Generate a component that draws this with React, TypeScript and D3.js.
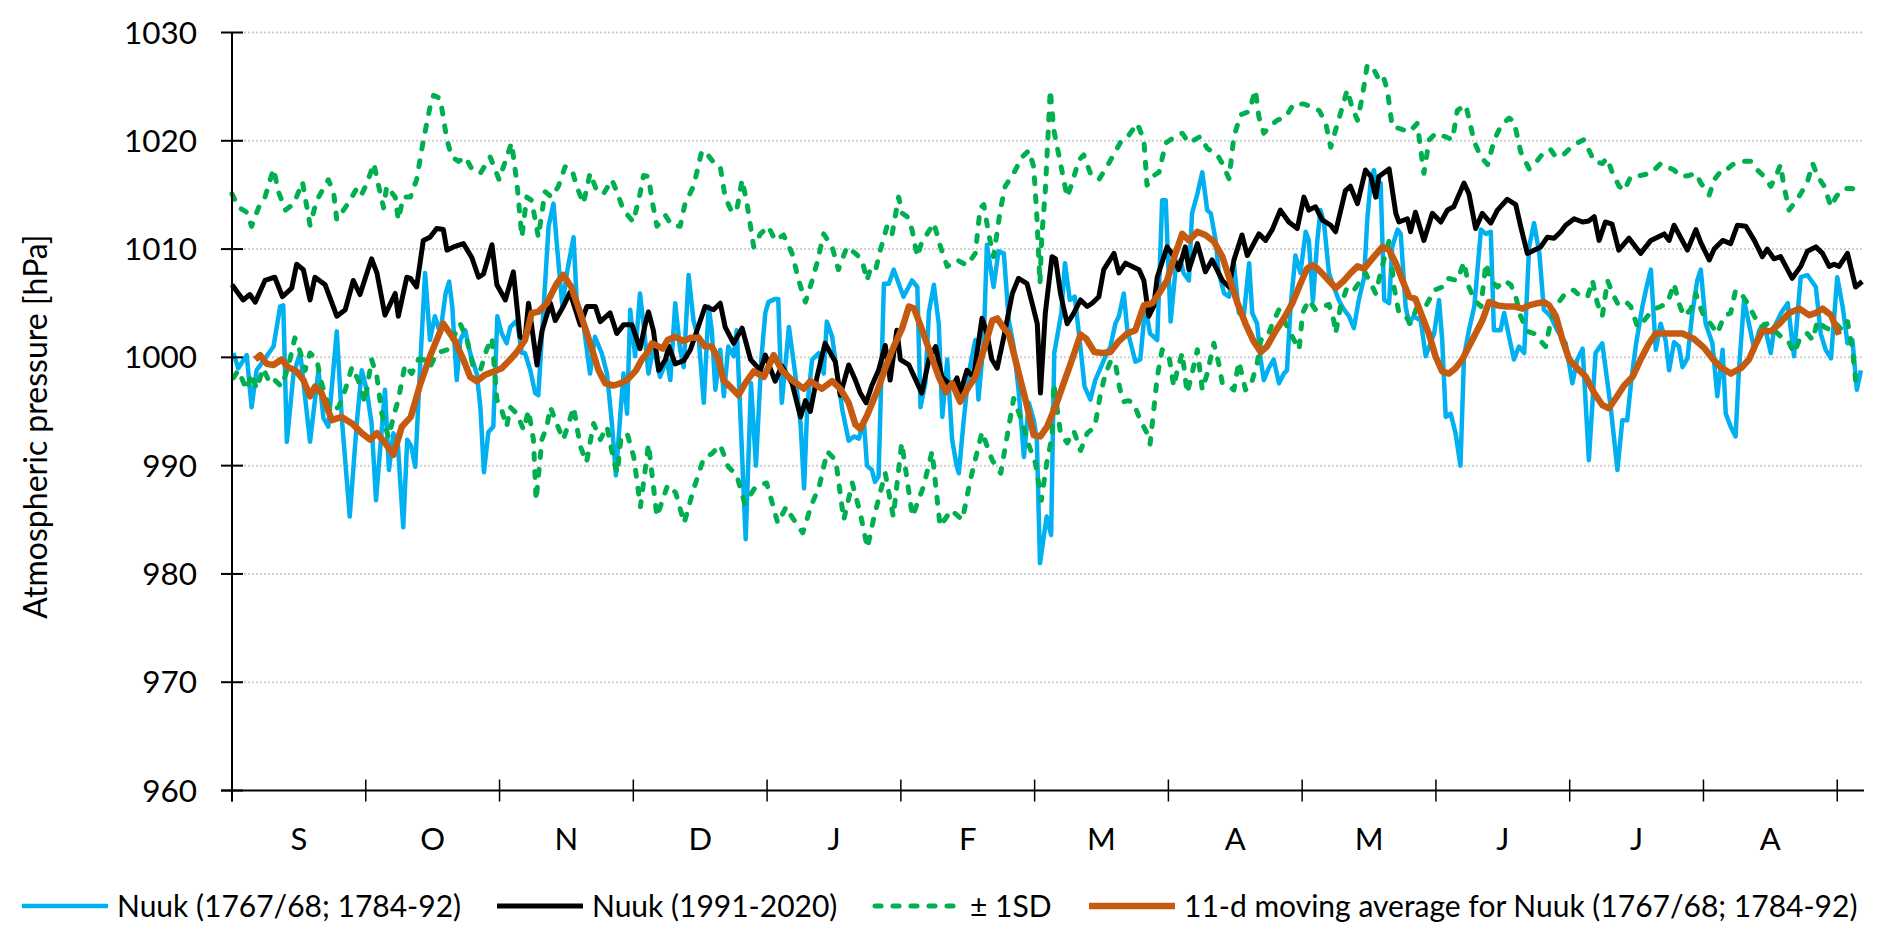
import React from "react";
import * as d3 from "d3";

const WIDTH = 1892;
const HEIGHT = 940;
const PLOT_LEFT = 232;
const PLOT_RIGHT = 1864;
const PLOT_TOP = 32.5;
const PLOT_BOTTOM = 790.5;
const FONT = "Lato, 'Open Sans', sans-serif";

const DAYS = 366;
const TICK_EVERY = 30; // category ticks every 30 days, like the excel original
const months = ["S", "O", "N", "D", "J", "F", "M", "A", "M", "J", "J", "A"];
const yTicks = [960, 970, 980, 990, 1000, 1010, 1020, 1030];

// [day from 1 Sep, hPa]
const nuukHist: [number, number][] = [
  [0.3, 1000.4], [1.4, 999], [3.3, 1000.2], [4.4, 995.4], [5.5, 998.8], [7.4, 999.9], [9.3, 1001], [10.8, 1004.7],
  [11.5, 1004.8], [12.3, 992.2], [13.8, 998.5], [15.3, 1000.4], [17.5, 992.2], [19.4, 998.8], [20.5, 994.4],
  [21.6, 993.6], [23.5, 1002.4], [24.6, 994.5], [26.4, 985.3], [28, 994], [29.1, 998.8], [30.2, 997], [31.3, 993.9],
  [32.3, 986.8], [34.3, 997], [35.2, 989.6], [36.2, 993], [37.2, 992], [38.4, 984.3], [39.3, 992.4], [40.2, 991.8],
  [41.1, 989.9], [42.1, 998.5], [43.3, 1007.8], [44.4, 1001.6], [45.5, 1003.8], [46.7, 1002.2], [47.9, 1005.9],
  [48.7, 1007], [49.4, 1004.7], [50.4, 997.9], [51.2, 1001.6], [52.3, 1002.5], [53.4, 1000.4], [54.9, 998.5],
  [55.7, 995.4], [56.5, 989.4], [57.5, 993.1], [58.6, 993.6], [59.5, 1003.8], [60.5, 1002.2], [61.6, 1001.3],
  [62.4, 1002.8], [63.9, 1003.4], [65, 1000.4], [65.7, 1000.4], [66.9, 998.8], [68, 996.7], [68.7, 996.5],
  [69.9, 1004.7], [71, 1012.1], [72.1, 1014.2], [72.9, 1010.2], [74.1, 1004.7], [75.1, 1007.8], [76.6, 1011.1],
  [77.3, 1005.3], [78.8, 1003.1], [80.3, 998.5], [81.4, 1001.9], [82.9, 1000.4], [84.1, 998.5], [85.2, 993.9],
  [86.1, 989.1], [87.1, 994.8], [87.8, 998.5], [88.6, 994.8], [89.3, 1004.4], [90.4, 1000.1], [91.5, 1005.9],
  [92.3, 1003], [93.4, 998.5], [94.5, 1001], [96, 998.2], [97.5, 999.8], [98.3, 997.9], [99.4, 1005], [100.5, 1000.7],
  [101.3, 999.1], [102.4, 1007.6], [103.5, 1003.4], [104.7, 1001.6], [105.8, 995.8], [106.9, 1004.7], [107.6, 1002.5],
  [108.4, 997], [109.5, 1000.7], [110.3, 996.4], [111.3, 1001], [112.5, 1000.1], [113.2, 1002.5], [115.2, 983.2],
  [116.4, 997.6], [117.5, 990], [118.7, 999.8], [119.6, 1004.1], [120.3, 1005.1], [121.8, 1005.4], [122.5, 1005.4],
  [123.3, 995.8], [124.9, 1002.8], [126.3, 998.5], [127.5, 993.9], [128.3, 987.9], [129, 995.4], [130.1, 999.8],
  [131.6, 1000.4], [132.7, 998.5], [133.4, 1003.3], [134.6, 1001.9], [135.7, 998.5], [136.9, 995.1], [138.3, 992.3],
  [139.5, 992.7], [140.6, 992.5], [141.7, 994.2], [142.4, 990], [143.5, 989.6], [144.2, 988.5], [145, 989],
  [146.2, 1006.8], [147.3, 1006.8], [148.4, 1008.1], [150.6, 1005.6], [152.5, 1007.1], [153.7, 1006.5], [154.4, 995.4],
  [155.5, 997.6], [156.3, 1004.2], [157.4, 1006.7], [158.5, 1003.1], [159.3, 994.5], [160.4, 999.8], [161.5, 992.4],
  [162.5, 990], [163, 989.3], [164.1, 994.2], [165.2, 998.5], [166.7, 1001.6], [167.4, 996.1], [168.6, 1001.6],
  [169.3, 1010.4], [170.8, 1006.5], [171.9, 1009.8], [173.1, 1009.6], [174.2, 1003.4], [175.3, 1001], [176.4, 997],
  [177.6, 990.8], [178.7, 995.8], [179.8, 994.2], [180.5, 992.4], [181.2, 981], [182.7, 985.3], [183.7, 983.6],
  [184.4, 1000.4], [186, 1004.1], [186.8, 1008.7], [187.9, 1005.3], [189, 1005.6], [190.1, 1001.6], [191.2, 997.3],
  [192.5, 996.1], [193.6, 997.9], [195.9, 1000.1], [197, 1001], [198.1, 1003.1], [198.9, 1003.8], [200, 1005.9],
  [200.8, 1002.5], [202.6, 999.6], [203.7, 999.8], [204.8, 1004.7], [205.9, 1002.2], [207.5, 1001.6], [208.6, 1014.5],
  [209.4, 1014.5], [210.5, 1003.3], [211.6, 1008.1], [212.7, 1009], [213.4, 1007.8], [214.6, 1007.1], [215.3, 1013.3],
  [216.5, 1015.1], [217.6, 1017.1], [218.7, 1013.6], [219.5, 1013.3], [220.6, 1010.8], [221.3, 1007.8], [222.5, 1005.9],
  [223.6, 1005.6], [224.7, 1008.7], [225.8, 1004.1], [226.9, 1003.8], [228.1, 1008.7], [228.8, 1004.1], [229.9, 1003.1],
  [230.7, 999.8], [231.4, 997.9], [232.5, 999], [233.6, 999.8], [234.8, 997.6], [235.9, 998.5], [236.6, 998.8],
  [237.4, 1004.7], [238.5, 1009.4], [239.6, 1007.8], [240.8, 1011.6], [241.5, 1010.8], [242.4, 1005.2], [243.4, 1010.8],
  [244.1, 1013.6], [244.9, 1012.4], [246, 1007.8], [247.1, 1006.5], [248.2, 1005.3], [249.4, 1004.4], [250.5, 1003.8],
  [251.6, 1002.7], [252.7, 1005.3], [253.9, 1007.4], [254.6, 1012.7], [255.4, 1016.4], [256.1, 1017.3], [256.9, 1014.8],
  [257.6, 1016.1], [258.4, 1005.3], [259.5, 1005], [260.2, 1010.2], [261.4, 1011.8], [262.1, 1011.4], [263.2, 1004.7],
  [264, 1003.1], [265, 1003.8], [266.6, 1003.4], [267.7, 1000.1], [268.5, 1001], [269.6, 1002.2], [270.7, 1005.3],
  [271.4, 1001.6], [272.2, 994.5], [273.3, 994.8], [274.4, 993], [275.5, 990], [276.3, 1000.1], [277.4, 1002.5],
  [278.6, 1004.7], [280.1, 1011.8], [281.2, 1011.4], [282.3, 1011.6], [283, 1002.5], [284.5, 1002.5], [285.3, 1004.1],
  [286.4, 1001.9], [287.5, 999.8], [288.6, 1001], [289.8, 1000.4], [290.9, 1010.2], [292, 1012.4], [293.2, 1009.6],
  [294.2, 1004.4], [295.7, 1003.8], [297.2, 1002.5], [299.1, 1001.3], [300.6, 997.6], [301.7, 999.8], [302.9, 1000.8],
  [304.3, 990.5], [305.8, 1000.4], [307.3, 1001.3], [309.2, 995.4], [310.7, 989.6], [311.8, 994.2], [312.9, 994.2],
  [313.9, 998.2], [314.9, 1001.3], [316.3, 1004.7], [317.4, 1006.8], [318.2, 1008.1], [319.3, 1000.7], [320.4, 1003.1],
  [321.5, 1001.6], [322.3, 998.8], [323.4, 1001.4], [324.5, 1001], [325.3, 999.1], [326.4, 999.9], [327.5, 1004.1],
  [328.6, 1007.1], [329.4, 1008.1], [330.5, 1003.1], [332, 1001.3], [333.1, 996.4], [334.3, 1000.7], [335, 994.8],
  [336.1, 993.6], [337.2, 992.7], [337.9, 998.5], [339.1, 1005.3], [340.2, 1003.1], [341.4, 1000.7], [342.5, 1002.5],
  [343.6, 1003.1], [345.1, 1000.4], [345.9, 1002.8], [347.4, 1004.1], [348.9, 1005], [350.3, 1000.1], [351.8, 1007.4],
  [353.3, 1007.6], [355.2, 1006.5], [356.3, 1002.2], [357.4, 1000.7], [358.6, 999.9], [360, 1007.4], [361.2, 1004.7],
  [362.3, 1001.3], [363.4, 1001.6], [364.4, 997], [365.3, 998.8],
];

const nuukNormal: [number, number][] = [
  [0, 1006.7], [2.5, 1005.3], [4, 1005.8], [5.2, 1005.1], [7.4, 1007.1], [9.6, 1007.4], [11.3, 1005.6], [13.4, 1006.4],
  [14.5, 1008.6], [16, 1008.1], [17.5, 1005.3], [18.6, 1007.4], [20.9, 1006.7], [23.5, 1003.8], [25.4, 1004.4],
  [27.2, 1007.1], [28.7, 1005.8], [31.3, 1009.1], [32.5, 1007.8], [34.3, 1003.9], [36.6, 1005.9], [37.3, 1003.8],
  [39.2, 1007.4], [40, 1007.3], [41.4, 1006.5], [42.9, 1010.8], [44.4, 1011.1], [45.9, 1011.9], [47.4, 1011.8],
  [48.2, 1009.9], [49.7, 1010.2], [51.9, 1010.5], [53.8, 1009.2], [55.3, 1007.4], [56.4, 1007.7], [58.3, 1010.4],
  [59.4, 1006.7], [61.3, 1005.3], [63.1, 1007.9], [64.6, 1001.9], [65.7, 1001.6], [66.5, 1005], [68.4, 999.3],
  [69.5, 1002.4], [71.4, 1005], [72.5, 1003.4], [74.3, 1004.7], [75.8, 1006], [78.1, 1003], [79.6, 1004.7],
  [81.5, 1004.7], [82.6, 1003.3], [84.8, 1004.1], [86.3, 1002.2], [87.8, 1003], [89.7, 1003], [91.5, 1000.8],
  [92.7, 1003.1], [93.4, 1004.2], [94.5, 1002.5], [95.7, 998.8], [97.2, 999.8], [98, 1001], [99.4, 999.4],
  [101.3, 999.7], [102.8, 1000.7], [104.3, 1002.5], [106.1, 1004.7], [108, 1004.4], [109.5, 1005], [110.6, 1002.8],
  [112.5, 1001.3], [114.4, 1002.7], [116.3, 999.8], [118.5, 998.8], [119.6, 1000.2], [121.8, 997.8], [123.3, 999.2],
  [125.6, 997.6], [127.5, 994.5], [128.6, 996], [129.7, 995], [131.2, 998.2], [133, 1001.3], [135.3, 999.6],
  [136.4, 996.5], [138.3, 999.3], [139.8, 997.9], [140.9, 996.7], [142.2, 995.8], [143.5, 997.4], [145, 998.8],
  [146.5, 1001.1], [147.6, 997.9], [149.1, 1002.5], [149.9, 999.8], [151.8, 999.3], [154.7, 996.7], [156.3, 999.8],
  [157.8, 1001], [159.2, 998.2], [161.5, 997.3], [162.6, 998.1], [163.3, 996.7], [164.8, 998.8], [166.3, 998.2],
  [168.2, 1003.6], [169.3, 1002.2], [170.4, 999.8], [171.6, 999], [173.1, 1001.9], [175, 1005.9], [176.4, 1007.3],
  [178.3, 1006.8], [179.8, 1004.4], [180.6, 1003.1], [181.3, 996.7], [182.4, 1004.1], [183.9, 1009.3], [184.7, 1009.1],
  [185.8, 1005.9], [187.3, 1003.1], [188.8, 1004.1], [190.3, 1005.3], [191.8, 1004.7], [192.9, 1005], [194.4, 1005.6],
  [195.5, 1008.1], [197.8, 1009.6], [198.9, 1007.8], [200.4, 1008.7], [203.4, 1008.1], [204.5, 1007.1], [205.6, 1003.8],
  [206.7, 1004.7], [207.5, 1007.4], [209.7, 1010.2], [210.8, 1009.6], [212.3, 1008.1], [213.8, 1010.2], [214.6, 1008.1],
  [216.5, 1010.5], [218.3, 1007.9], [219.8, 1009], [222.1, 1007.1], [223.6, 1006.5], [224.7, 1009], [226.5, 1011.3],
  [227.7, 1009.4], [230.3, 1011.4], [231.8, 1010.8], [233.3, 1011.8], [235.1, 1013.6], [237, 1012.5], [238.9, 1011.9],
  [240.4, 1014.8], [241.5, 1013.6], [243, 1013.9], [244.5, 1012.7], [246.4, 1012.2], [247.5, 1011.6], [249.7, 1015.4],
  [250.8, 1015.8], [252.4, 1014.2], [254.2, 1017.3], [255.4, 1016.7], [256.5, 1014.8], [257.2, 1016.7], [259.5, 1017.4],
  [261, 1013.3], [261.7, 1012.5], [263.6, 1012.8], [264.3, 1011.6], [265.4, 1013.4], [267.3, 1010.8], [269.2, 1013.3],
  [271.1, 1012.5], [272.6, 1013.6], [274, 1013.9], [276.3, 1016.1], [277.4, 1015.1], [278.9, 1011.9], [280.4, 1013.3],
  [282.3, 1012.4], [283.8, 1013.6], [286, 1014.6], [287.9, 1014.1], [289, 1012.1], [290.5, 1009.6], [293.5, 1010.2],
  [295, 1011.1], [296.5, 1011], [298, 1011.6], [299.1, 1012.2], [301, 1012.8], [302.9, 1012.5], [304.3, 1012.6],
  [305.5, 1013], [306.6, 1010.8], [308, 1012.5], [309.5, 1012.3], [311, 1009.9], [313.3, 1011], [315.9, 1009.6],
  [318.2, 1010.8], [321.2, 1011.4], [322.3, 1010.8], [323.4, 1012.2], [326.4, 1009.9], [328.3, 1011.8], [329.4, 1010.6],
  [331.3, 1009], [332.4, 1010], [334.3, 1010.8], [336.1, 1010.5], [337.6, 1012.2], [339.5, 1012.1], [341.4, 1010.8],
  [343.2, 1009.3], [344.3, 1010], [345.8, 1009.1], [347.3, 1009.3], [349.9, 1007.3], [351.8, 1008.4], [353.3, 1009.8],
  [355.2, 1010.2], [356.7, 1009.6], [358.2, 1008.4], [359.3, 1008.6], [360.4, 1008.4], [362.3, 1009.6], [364.1, 1006.5],
  [365.6, 1007],
];

const sdUpper: [number, number][] = [
  [0, 1015.1], [1.4, 1013.9], [3.3, 1013.4], [4.4, 1012.1], [6.3, 1014.2], [7.4, 1014.8], [9.3, 1017.4], [10.5, 1015.2],
  [12, 1013.6], [13.9, 1014.2], [15.8, 1016.2], [17.5, 1012.2], [19, 1014.5], [21.6, 1016.4], [22.8, 1015.2],
  [23.5, 1012.7], [25, 1013.6], [26, 1014.2], [28, 1015.6], [29, 1015], [30.2, 1016], [31.8, 1017.9], [32.9, 1015.8],
  [34, 1013.8], [34.7, 1015.8], [36.6, 1014.8], [37.3, 1012.7], [38.4, 1014.8], [40, 1014.8], [41.4, 1016.4],
  [42.9, 1020], [44.4, 1023.1], [45.2, 1024.2], [46.7, 1023.9], [48.2, 1020.1], [49.3, 1018.5], [50.8, 1018.1],
  [52.3, 1018.5], [53.8, 1017.4], [55.7, 1017], [57.9, 1018.5], [59.9, 1016.4], [61.6, 1018.5], [62.7, 1019.8],
  [63.9, 1016.1], [65, 1011.1], [66.1, 1014.8], [67.2, 1014.5], [68.7, 1011.1], [70.2, 1015.3], [71.7, 1014.8],
  [73.2, 1015.8], [74.7, 1017.6], [76.2, 1017.4], [77.3, 1015.8], [78.8, 1014.2], [80.3, 1017], [81.8, 1015.4],
  [83.3, 1015.1], [85.2, 1016.4], [86.3, 1015.3], [87.8, 1013.6], [90, 1012.5], [91.5, 1015.1], [92.3, 1016.8],
  [93.4, 1016.7], [94.2, 1014.5], [95.3, 1012.1], [97.2, 1013.1], [98.6, 1012.2], [100.5, 1012.1], [101.6, 1014.2],
  [103.5, 1015.8], [105.4, 1019.1], [106.5, 1018.8], [108.4, 1017.8], [109.5, 1017.6], [110.6, 1014.8], [112.1, 1013.4],
  [113.2, 1013.6], [114.4, 1016.4], [115.5, 1014.2], [117, 1010.2], [118.5, 1011.4], [120.3, 1012.1], [121.8, 1010.8],
  [123.7, 1011.3], [125.6, 1009.6], [127.1, 1007.1], [128.6, 1005.1], [130.1, 1007.1], [131.2, 1008.7], [132.7, 1011.4],
  [134.6, 1010.2], [136, 1008.1], [137.9, 1010.2], [139.8, 1009.6], [141.3, 1009], [142.4, 1007.1], [143.2, 1008.2],
  [144.3, 1008], [145.4, 1009.9], [146.9, 1012.1], [148, 1011.3], [149.5, 1014.8], [150.3, 1013.3], [151.4, 1013],
  [152.5, 1011.8], [153.7, 1009.3], [154.8, 1010.8], [155.9, 1011.4], [157.4, 1012.4], [158.9, 1010.2], [160.4, 1008.4],
  [162.6, 1009], [164.8, 1008.5], [166.7, 1009.6], [167.8, 1013.8], [168.6, 1014.1], [169.7, 1011.4], [170.8, 1009.3],
  [172.3, 1013.6], [173.4, 1015.8], [175.3, 1017], [177.2, 1018.5], [178.7, 1019.1], [179.8, 1017.6], [180.5, 1013],
  [181.2, 1006.8], [181.6, 1011.1], [182.4, 1015.4], [183.5, 1024.7], [184.3, 1021], [185.8, 1017.9], [187.3, 1014.8],
  [188.4, 1016.1], [189.9, 1018.2], [191, 1018.7], [192.5, 1017], [194.4, 1016.4], [196.6, 1017.9], [199.6, 1020.1],
  [201.1, 1020.5], [203, 1021.6], [204.5, 1020.1], [205.2, 1015.9], [206.4, 1016.7], [207.9, 1017.1], [209.4, 1019.8],
  [211.6, 1020.4], [213.1, 1020.7], [214.6, 1019.8], [217.2, 1020.4], [218.7, 1019.3], [221, 1018.7], [222.1, 1017.9],
  [223.6, 1016.5], [224.7, 1020.4], [226.2, 1022.4], [228.1, 1022.7], [229.5, 1024.7], [230.3, 1022.2], [231.4, 1020.7],
  [232.9, 1021.4], [234.4, 1021.9], [236.3, 1022.2], [238.1, 1023.4], [240.4, 1023.4], [242.3, 1023.1], [243.8, 1022.8],
  [245.3, 1021.6], [246.4, 1019.4], [247.5, 1021], [249, 1023.1], [250.1, 1024.7], [251.2, 1023.1], [252.4, 1021.9],
  [253.5, 1024.1], [254.6, 1027], [255.8, 1026.8], [256.9, 1025.9], [258, 1026.2], [259.1, 1024.7], [260.2, 1021.3],
  [262.1, 1021.1], [264, 1020.8], [265.8, 1021.6], [267.3, 1017], [268.5, 1020.1], [270, 1020.7], [271.9, 1020.4],
  [273.7, 1020.1], [274.8, 1022.8], [276.7, 1023.3], [278.6, 1019.9], [280.1, 1018.5], [281.6, 1017.8], [283.1, 1020.1],
  [284.6, 1021.4], [286.4, 1022.1], [287.5, 1021.8], [289, 1019], [290.9, 1017.4], [292.8, 1018.2], [294.3, 1019],
  [295.7, 1019.2], [296.9, 1018.5], [298.8, 1018.8], [300.3, 1019.4], [301.7, 1019.8], [303.2, 1020.1], [304.7, 1018.8],
  [305.5, 1018.1], [307.3, 1017.9], [308.4, 1018.4], [309.6, 1017], [311.1, 1015.8], [312.2, 1015.4], [313.7, 1016.7],
  [315.9, 1016.8], [318.2, 1017], [320.4, 1017.9], [321.9, 1017.6], [323.4, 1017.3], [324.9, 1016.7], [326.8, 1016.8],
  [328.3, 1017], [329.4, 1016.1], [331.3, 1015], [332.4, 1016.4], [334.3, 1017.4], [335.4, 1017.4], [336.5, 1017.8],
  [338.4, 1018.1], [340.6, 1018.1], [342.1, 1017.3], [343.6, 1016.7], [345.1, 1015.8], [346.2, 1016.7], [347.3, 1017.8],
  [348, 1015.9], [349.2, 1013.6], [350.3, 1014.2], [351.8, 1015.1], [353.3, 1016.2], [354.5, 1017.9], [355.6, 1016.7],
  [357.1, 1015.8], [358.6, 1013.9], [359.7, 1014.8], [360.8, 1015.4], [361.9, 1015.6], [363.4, 1015.6], [364.5, 1015.1],
  [365.3, 1015.1],
];

const sdLower: [number, number][] = [
  [0.3, 998.1], [1.4, 998.8], [3.3, 997], [4.4, 998.5], [5.5, 997.1], [7, 999], [8.5, 997.6], [9.6, 997.9], [11.1, 997.3],
  [12.6, 999.1], [14.1, 1001.8], [15.3, 1000.5], [16.4, 998.8], [17.5, 1000.4], [19, 999.8], [20.1, 997.6],
  [21.2, 996.1], [22.4, 995.1], [23.9, 995.4], [25.4, 997], [26.9, 999.1], [28.3, 997.9], [29.8, 995.8], [31.3, 999.8],
  [32.5, 998.2], [33.6, 994.8], [35.1, 992.6], [36.2, 994.5], [37.3, 996.1], [38.8, 999.3], [40.3, 998.5],
  [41.8, 999.8], [42.9, 999.8], [44.4, 999.1], [45.9, 1000.4], [48.2, 1000.7], [49.7, 1001.9], [51.2, 1003.1],
  [52.7, 1001.6], [54.1, 999.1], [55.7, 998.8], [57.1, 1000.7], [58.3, 1001.8], [59.4, 996.1], [60.5, 995.1],
  [61.6, 993.6], [62.4, 995.4], [63.9, 994.8], [65.4, 993.3], [66.5, 995.1], [67.6, 992.4], [68.2, 986.8],
  [69.5, 992.4], [70.6, 993.6], [71.4, 995.4], [72.8, 993.9], [74.3, 992.4], [75.5, 993.9], [76.6, 995.4],
  [78.1, 991.8], [79.5, 990.3], [81.1, 993.9], [82.6, 992.4], [84.1, 993.6], [85.6, 990.5], [86.4, 989.3],
  [87.2, 992.4], [88.6, 993], [90.1, 990.8], [91.6, 986.2], [93.4, 992], [95.3, 985.3], [97.7, 988.2], [99.5, 987.5],
  [101.4, 984.7], [103.5, 987.8], [105.8, 990.7], [107.6, 991.1], [109.5, 991.9], [111.3, 989.9], [113.2, 989.1],
  [115, 986.5], [117.5, 988.1], [119.9, 988.4], [122.4, 984.7], [124.3, 986.2], [125.5, 985.3], [128, 983.8],
  [129.8, 986.2], [131.7, 988.1], [133.5, 991.3], [135.4, 990.5], [137.2, 985], [139.1, 988.4], [140.9, 985.6],
  [142.5, 982.4], [144, 985.3], [146.5, 989.3], [148.3, 985.3], [150.2, 992.1], [152.6, 985.3], [155.1, 988.1],
  [157, 991.3], [158.8, 984.4], [161.3, 985.9], [163.8, 985], [165.6, 988.7], [168.2, 993.1], [170.5, 990.5],
  [172.4, 989.3], [175.3, 996.2], [176.8, 994.5], [178.7, 991.9], [180.2, 990.2], [181.5, 986.8], [182.7, 990.2],
  [183.9, 992.7], [184.3, 997.6], [185.8, 993], [187.3, 992.1], [188.8, 993.2], [190.3, 991.4], [191.8, 993],
  [193.5, 993.6], [194.8, 996.7], [195.9, 998.5], [197, 999.6], [198, 999.7], [199, 997.3], [199.9, 995.9], [201, 996],
  [202.2, 995.8], [203.7, 994.2], [205.2, 993], [205.9, 992], [206.7, 995.1], [207.5, 998.2], [208.6, 1000.7],
  [210.1, 1000.2], [211.2, 997.3], [212, 998.8], [213.1, 1000.4], [214.2, 996.7], [215.3, 998.5], [216.5, 1000.7],
  [217.6, 997], [218.7, 998.5], [220.2, 1001.3], [221.3, 999.4], [222.1, 997.6], [223.6, 997.3], [224.7, 997],
  [225.8, 999.6], [227.3, 997], [228.4, 997.3], [229.9, 999.4], [230.7, 1001.6], [232.2, 1001.9], [233.3, 1003.1],
  [234.8, 1004.4], [236.3, 1003.1], [237.8, 1001.9], [239.3, 1000.7], [240.1, 1004.1], [241.5, 1005.3], [243, 1004.4],
  [244.9, 1004.7], [246, 1004.9], [247.1, 1003.4], [247.5, 1002.2], [248.6, 1004.7], [250.1, 1006.5], [251.6, 1006.2],
  [253.1, 1007.1], [254.2, 1007.8], [255.4, 1006.8], [256.5, 1005.9], [257.6, 1007.8], [258.7, 1009.6], [259.5, 1010.8],
  [260.6, 1006.5], [261.7, 1004.1], [263.2, 1003.8], [264.3, 1003.1], [265.8, 1004.7], [267.7, 1004.7], [269.6, 1006.2],
  [271.4, 1006.5], [272.6, 1007.3], [274.8, 1007.1], [276.3, 1008.8], [277.4, 1006.5], [278.6, 1005.3], [280.1, 1004.7],
  [281.2, 1008.7], [282.3, 1007.1], [283.8, 1006.5], [285.3, 1007.1], [286.8, 1006.7], [287.9, 1005.6], [289, 1003.8],
  [290.5, 1002.4], [292, 1002.2], [293.5, 1001.5], [294.6, 1001], [295.7, 1003.2], [296.5, 1004.4], [297.9, 1005.3],
  [299.4, 1006.1], [300.9, 1006.2], [302.5, 1005.6], [304, 1005.6], [305.1, 1007.1], [306.2, 1005], [307.3, 1003.8],
  [308.5, 1007.1], [309.6, 1005.9], [310.7, 1005], [312.2, 1005.3], [313.7, 1004.7], [315.2, 1002.8], [316.7, 1003.4],
  [318.6, 1004.4], [320.4, 1004.7], [321.9, 1005], [323.4, 1006.8], [324.5, 1005], [325.6, 1003.8], [327.1, 1004.4],
  [328.3, 1005.9], [329.2, 1004.7], [330.1, 1003.8], [331.6, 1003.1], [333.1, 1002.2], [334.6, 1003.8], [336.1, 1004.1],
  [337.2, 1006.2], [338.4, 1005.9], [339.9, 1005], [341.4, 1003.8], [342.9, 1002.8], [344.3, 1003.1], [345.9, 1002.5],
  [347.4, 1001.9], [348.9, 1001.6], [350.3, 1000.4], [351.8, 1001.9], [353.3, 1002.2], [354.5, 1001.6], [355.6, 1003.4],
  [357.1, 1002.8], [358.6, 1002.5], [359.7, 1003.1], [361.2, 1002.5], [362.3, 1003.3], [363.4, 1000.7], [364.2, 997.6],
  [365.3, 997.9],
];

const movingAvg: [number, number][] = [
  [5.2, 999.8], [6.3, 1000.2], [7.8, 999.4], [9.3, 999.3], [11.1, 999.8], [12.6, 999.1], [14.5, 998.7], [16, 997.9],
  [17.5, 996.4], [18.6, 997.3], [20.1, 996.7], [22.4, 994.2], [24.6, 994.5], [26.9, 993.9], [29.1, 993], [31, 992.4],
  [32.5, 993], [34.3, 992.1], [36.2, 991], [38.1, 993.6], [40.1, 994.5], [42.2, 997.5], [44.4, 1000.1], [45.9, 1001.6],
  [47.4, 1003.1], [49.9, 1001.6], [51.9, 999.8], [53.4, 998.2], [54.9, 997.8], [56.8, 998.4], [58.7, 998.7], [60.5, 999],
  [62.4, 999.8], [63.9, 1000.5], [65.7, 1001.6], [67.2, 1004.1], [68.7, 1004.2], [70.6, 1005], [72.8, 1006.8],
  [74.3, 1007.6], [76.1, 1006.5], [78.1, 1004.1], [80.3, 1001.3], [82.2, 998.8], [83.7, 997.6], [85.6, 997.4],
  [87.1, 997.6], [88.6, 997.9], [90.6, 998.8], [91.9, 999.8], [93.1, 1000.4], [94.2, 1001.3], [96.6, 1000.8],
  [97.7, 1001.6], [99.4, 1001.9], [101.3, 1001.5], [102.8, 1001.8], [104.7, 1001.8], [106.1, 1001], [107.6, 1001],
  [109.1, 999.8], [110.2, 997.9], [111.7, 997.3], [113.6, 996.5], [115.1, 997.6], [117, 998.7], [119.3, 998.2],
  [121.5, 1000.2], [123.3, 998.8], [125.6, 997.9], [128.2, 997.1], [129.7, 997.8], [132.3, 997.1], [134.6, 997.8],
  [136.4, 997.1], [138.3, 995.8], [139.8, 993.8], [140.9, 993.4], [142.4, 994.6], [144.8, 997], [146.5, 999],
  [148.4, 1001], [150.3, 1002.7], [151.8, 1004.7], [153, 1004.5], [154.8, 1002.5], [156.6, 1000.4], [158.5, 998.2],
  [160.1, 996.8], [161.5, 997.6], [163.3, 995.9], [164.8, 997], [166.7, 998.2], [168.6, 1000.7], [170.5, 1003.4],
  [171.6, 1003.6], [173.1, 1002.7], [174.2, 1002.2], [176.1, 999.1], [178.3, 995.5], [179.8, 992.8], [181.3, 992.7],
  [182.8, 993.6], [184.7, 995.5], [186.5, 997.6], [188.4, 999.8], [190.3, 1002.1], [191.6, 1001.7], [193.4, 1000.5],
  [195.2, 1000.4], [197, 1000.5], [198.9, 1001.5], [200.8, 1002.2], [202.6, 1002.5], [204.5, 1004.8], [206.4, 1005],
  [207.9, 1005.9], [209.7, 1007.1], [211.6, 1009.6], [213.1, 1011.4], [214.6, 1010.8], [216.5, 1011.6], [218.3, 1011.3],
  [220.2, 1010.7], [222.1, 1009.3], [223.6, 1007.4], [225.5, 1005], [227.3, 1003.1], [229.1, 1001.5], [230.7, 1000.5],
  [232.1, 1001], [234, 1002.4], [235.9, 1003.6], [237.8, 1005], [239.6, 1006.8], [241.1, 1008.2], [242.3, 1008.5],
  [243.4, 1008.2], [245.3, 1007.4], [247.5, 1006.4], [249.4, 1007.1], [250.9, 1007.8], [252.4, 1008.4], [253.9, 1008.2],
  [256.1, 1009.3], [258, 1010.2], [259.5, 1009.9], [261, 1008.7], [262.5, 1007.1], [264, 1005.6], [265.4, 1005.4],
  [266.9, 1003.8], [268.4, 1002.2], [269.9, 1000.1], [271.4, 998.7], [272.9, 998.5], [274.4, 999], [275.9, 999.8],
  [277.4, 1001], [278.9, 1002.2], [280.4, 1003.4], [281.9, 1005.1], [283.8, 1004.8], [285.6, 1004.7], [287.5, 1004.7],
  [289.4, 1004.5], [290.9, 1004.8], [292.8, 1005], [294.3, 1005.1], [295.4, 1004.8], [296.9, 1003.8], [298.4, 1001.6],
  [299.9, 999.8], [301.7, 999], [303.6, 998.2], [305.5, 996.7], [307.3, 995.6], [308.8, 995.3], [310.3, 996.2],
  [312.2, 997.4], [314.1, 998.2], [315.9, 999.8], [317.8, 1001.3], [319.3, 1002.2], [321.9, 1002.2], [325.3, 1002.2],
  [327.9, 1001.7], [330.1, 1000.9], [332, 999.9], [333.8, 999.1], [336.1, 998.5], [338.4, 999], [340.2, 999.8],
  [341.8, 1001.3], [343.3, 1002.5], [345.1, 1002.4], [347, 1003.1], [349.2, 1004.1], [351.5, 1004.5], [353.7, 1003.9],
  [355.2, 1004.1], [356.7, 1004.5], [358.6, 1003.9], [360.4, 1002.1],
];

const BLUE = "#00B0F0";
const GREEN = "#00B050";
const ORANGE = "#C55A11";
// short round-capped dashes, excel's "round dot"-ish look
const DASH = "6 12";

const series = [
  {data: nuukHist, color: BLUE, width: 4.5, dash: undefined},
  {data: nuukNormal, color: "#000000", width: 5, dash: undefined},
  {data: sdUpper, color: GREEN, width: 5, dash: DASH},
  {data: sdLower, color: GREEN, width: 5, dash: DASH},
  {data: movingAvg, color: ORANGE, width: 6.5, dash: undefined},
];

const legend = [
  {label: "Nuuk (1767/68; 1784-92)", color: BLUE, width: 4.5, dash: undefined, x: 22},
  {label: "Nuuk (1991-2020)", color: "#000000", width: 5, dash: undefined, x: 497},
  {label: "± 1SD", color: GREEN, width: 5, dash: DASH, x: 875},
  {label: "11-d moving average for Nuuk (1767/68; 1784-92)", color: ORANGE, width: 6.5, dash: undefined, x: 1089},
];

export default function App() {
  const x = d3.scaleLinear().domain([0, DAYS]).range([PLOT_LEFT, PLOT_RIGHT]);
  const y = d3.scaleLinear().domain([960, 1030]).range([PLOT_BOTTOM, PLOT_TOP]);
  const line = d3.line<[number, number]>().x(d => x(d[0])).y(d => y(d[1]));

  const catTicks = d3.range(0, DAYS, TICK_EVERY);

  return (
    <svg width={WIDTH} height={HEIGHT} style={{position: "absolute", left: 0, top: 0, background: "#fff"}}
         fontFamily={FONT}>
      {/* gridlines */}
      {yTicks.filter(t => t > 960).map(t => (
        <line key={"g" + t} x1={PLOT_LEFT} x2={PLOT_RIGHT} y1={y(t)} y2={y(t)}
              stroke="#D0D0D0" strokeWidth={2} strokeDasharray="2 2"/>
      ))}

      {/* series, in the excel draw order */}
      {series.map((s, i) => (
        <path key={"s" + i} d={line(s.data) || ""} fill="none" stroke={s.color} strokeWidth={s.width}
              strokeDasharray={s.dash} strokeLinecap={s.dash ? "round" : "butt"} strokeLinejoin="round"/>
      ))}

      {/* y axis */}
      <line x1={PLOT_LEFT} x2={PLOT_LEFT} y1={PLOT_TOP} y2={PLOT_BOTTOM + 11} stroke="#000" strokeWidth={2}/>
      {yTicks.map(t => (
        <g key={"y" + t}>
          <line x1={PLOT_LEFT - 11} x2={PLOT_LEFT + 11} y1={y(t)} y2={y(t)} stroke="#000" strokeWidth={2}/>
          <text x={197} y={y(t)} dy="0.35em" textAnchor="end" fontSize={31.5}>{t}</text>
        </g>
      ))}
      <text transform={`translate(47,${(PLOT_TOP + PLOT_BOTTOM) / 2 + 15}) rotate(-90)`} textAnchor="middle"
            fontSize={32}>Atmospheric pressure [hPa]</text>

      {/* x axis */}
      <line x1={PLOT_LEFT - 11} x2={PLOT_RIGHT} y1={PLOT_BOTTOM} y2={PLOT_BOTTOM} stroke="#000" strokeWidth={2}/>
      {catTicks.map(d => (
        <line key={"x" + d} x1={x(d)} x2={x(d)} y1={PLOT_BOTTOM - 11} y2={PLOT_BOTTOM + 11}
              stroke="#000" strokeWidth={1.5}/>
      ))}
      {months.map((m, i) => (
        <text key={"m" + i} x={x(i * TICK_EVERY + TICK_EVERY / 2)} y={850} textAnchor="middle" fontSize={31}>{m}</text>
      ))}

      {/* legend */}
      {legend.map(l => (
        <g key={l.label}>
          <line x1={l.x} x2={l.x + 86} y1={906} y2={906} stroke={l.color} strokeWidth={l.width}
                strokeDasharray={l.dash} strokeLinecap={l.dash ? "round" : "butt"}/>
          <text x={l.x + 95} y={906} dy="0.35em" fontSize={30}>{l.label}</text>
        </g>
      ))}
    </svg>
  );
}
